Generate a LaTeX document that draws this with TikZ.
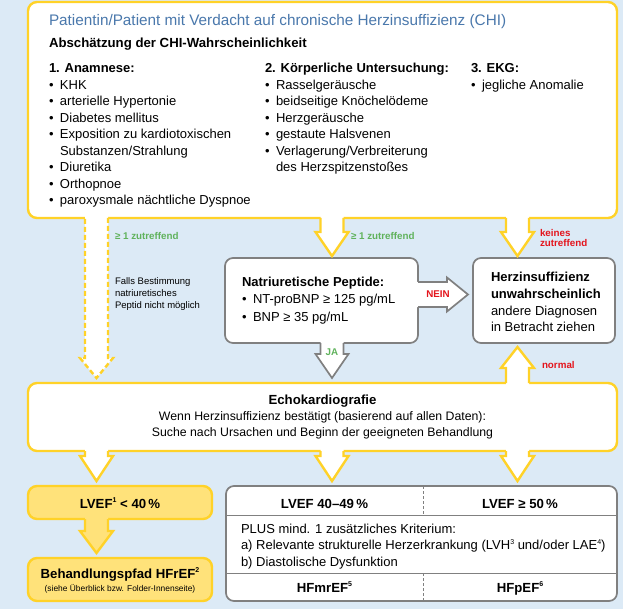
\documentclass[tikz,border=0pt]{standalone}
\usepackage{fontspec}
\setmainfont{Liberation Sans}
\usetikzlibrary{calc}

\definecolor{bgblue}{RGB}{220,234,246}
\definecolor{ylw}{RGB}{255,210,40}
\definecolor{paleylw}{RGB}{255,226,122}
\definecolor{frame}{RGB}{128,128,128}
\definecolor{titleblue}{RGB}{74,120,172}
\definecolor{okgreen}{RGB}{96,178,92}
\definecolor{alertred}{RGB}{228,20,28}

\newcommand\fs[2]{\fontsize{#1}{#2}\selectfont}
\newcommand\itm{\makebox[11pt][l]{\textbullet}}
\newcommand\fnmark[1]{\raisebox{0.42em}{\fontsize{7}{7}\selectfont #1}}
\newcommand\shafthw{11.5pt}
\newcommand\headhw{16.5pt}

% block arrow growing out of a box outline:
% #1 outline style, #2 fill colour, #3 root on the box edge, #4 tip, #5 head length
\newcommand\blockarrow[5]{%
  \coordinate (ba-r) at (#3);
  \coordinate (ba-t) at (#4);
  \coordinate (ba-b) at ($(ba-t)!#5!(ba-r)$);
  \coordinate (ba-c) at ($(ba-r)!-2.6pt!(ba-t)$);
  \fill[#2] ($(ba-c)!\shafthw!90:(ba-t)$) -- ($(ba-b)!\shafthw!90:(ba-t)$)
    -- ($(ba-b)!\headhw!90:(ba-t)$) -- (ba-t) -- ($(ba-b)!\headhw!-90:(ba-t)$)
    -- ($(ba-b)!\shafthw!-90:(ba-t)$) -- ($(ba-c)!\shafthw!-90:(ba-t)$) -- cycle;
  \draw[#1] ($(ba-r)!\shafthw!90:(ba-t)$) -- ($(ba-b)!\shafthw!90:(ba-t)$)
    -- ($(ba-b)!\headhw!90:(ba-t)$) -- (ba-t) -- ($(ba-b)!\headhw!-90:(ba-t)$)
    -- ($(ba-b)!\shafthw!-90:(ba-t)$) -- ($(ba-r)!\shafthw!-90:(ba-t)$);
}

\tikzset{
  ybox/.style={draw=ylw, line width=2.4pt, fill=white, rounded corners=9pt, inner sep=0pt, outer sep=0pt},
  gbox/.style={draw=frame, line width=1.7pt, fill=white, rounded corners=8pt, inner sep=0pt, outer sep=0pt},
  pbox/.style={ybox, fill=paleylw},
  yarrow/.style={draw=ylw, line width=2.4pt, line join=miter},
  garrow/.style={draw=frame, line width=1.7pt, line join=miter},
  txt/.style={inner sep=0pt, outer sep=0pt, anchor=base west},
  ctxt/.style={txt, anchor=base},
  lbl/.style={txt, font=\fs{9.8}{10}\bfseries},
}

\begin{document}
\begin{tikzpicture}[x=1pt, y=-1pt]
\fill[bgblue] (0,0) rectangle (623,609);
\useasboundingbox (0,0) rectangle (623,609);

% arrow axes
\coordinate (colA) at (96.5,0);
\coordinate (colB) at (332,0);
\coordinate (colC) at (517.5,0);
\coordinate (rowN) at (0,294.5);

% boxes
\node[ybox, minimum width=589pt, minimum height=216pt, anchor=north west] (top) at (28,2) {};
\node[gbox, minimum width=193pt, minimum height=85pt, anchor=north west] (natri) at (225,258) {};
\node[gbox, minimum width=142pt, minimum height=85pt, anchor=north west] (herz) at (473,258) {};
\node[ybox, minimum width=589pt, minimum height=68pt, anchor=north west] (echo) at (28,383) {};
\node[pbox, minimum width=184pt, minimum height=33pt, anchor=north west] (lvef) at (28,486) {};
\node[pbox, minimum width=184pt, minimum height=43pt, anchor=north west] (pfad) at (28,558) {};
\node[gbox, minimum width=391pt, minimum height=115pt, anchor=north west] (tab) at (226,486) {};

% table rules
\draw[frame, line width=1pt] ($(tab.north west)+(0,29)$) -- ($(tab.north east)+(0,29)$);
\draw[frame, line width=1pt] ($(tab.north west)+(0,87)$) -- ($(tab.north east)+(0,87)$);
\draw[frame, line width=0.8pt, dash pattern=on 3pt off 2pt] ($(tab.north west)+(197,0)$) -- ($(tab.north west)+(197,29)$);
\draw[frame, line width=0.8pt, dash pattern=on 3pt off 2pt] ($(tab.south west)+(197,0)$) -- ($(tab.south west)+(197,-28)$);

% arrows
\blockarrow{yarrow, dash pattern=on 5pt off 3pt}{white}{top.south -| colA}{$(echo.north -| colA)+(0,-5)$}{20pt}
\blockarrow{yarrow}{white}{top.south -| colB}{$(natri.north -| colB)+(0,-2)$}{24pt}
\blockarrow{yarrow}{white}{top.south -| colC}{$(herz.north -| colC)+(0,-2)$}{24pt}
{\renewcommand\shafthw{12.5pt}\renewcommand\headhw{17pt}%
 \blockarrow{garrow}{white}{natri.east |- rowN}{$(herz.west |- rowN)+(-5,0)$}{21pt}}
\blockarrow{garrow}{white}{natri.south -| colB}{$(echo.north -| colB)+(0,-5)$}{24pt}
\blockarrow{yarrow}{white}{echo.north -| colC}{$(herz.south -| colC)+(0,4)$}{21pt}
\blockarrow{yarrow}{white}{echo.south -| colA}{$(lvef.north -| colA)+(0,-5)$}{25pt}
\blockarrow{yarrow}{white}{echo.south -| colB}{$(tab.north -| colB)+(0,-5)$}{25pt}
\blockarrow{yarrow}{white}{echo.south -| colC}{$(tab.north -| colC)+(0,-5)$}{25pt}
\blockarrow{yarrow}{paleylw}{lvef.south -| colA}{$(pfad.north -| colA)+(0,-5)$}{22pt}

% top box text
\node[txt, text=titleblue, font=\fs{15.3}{18}] (title) at (49,26)
  {Patientin/Patient mit Verdacht auf chronische Herzinsuffizienz (CHI)};
\node[txt, font=\fs{13.2}{16}\bfseries] (abs) at (49,48) {Abschätzung der CHI-Wahrscheinlichkeit};
\node[txt, font=\fs{13}{16.5}] (anam) at (49,73) {\begin{tabular}[t]{@{}l@{}}
  \textbf{1. Anamnese:}\\
  \itm KHK\\
  \itm arterielle Hypertonie\\
  \itm Diabetes mellitus\\
  \itm Exposition zu kardiotoxischen\\
  \hspace*{11pt}Substanzen/Strahlung\\
  \itm Diuretika\\
  \itm Orthopnoe\\
  \itm paroxysmale nächtliche Dyspnoe
\end{tabular}};
\node[txt, font=\fs{13}{16.5}] (koerp) at (265,73) {\begin{tabular}[t]{@{}l@{}}
  \textbf{2. Körperliche Untersuchung:}\\
  \itm Rasselgeräusche\\
  \itm beidseitige Knöchelödeme\\
  \itm Herzgeräusche\\
  \itm gestaute Halsvenen\\
  \itm Verlagerung/Verbreiterung\\
  \hspace*{11pt}des Herzspitzenstoßes
\end{tabular}};
\node[txt, font=\fs{13}{16.5}] (ekg) at (471,73) {\begin{tabular}[t]{@{}l@{}}
  \textbf{3. EKG:}\\
  \itm jegliche Anomalie
\end{tabular}};

% arrow labels
\node[lbl, text=okgreen] (zA) at (115,239.5) {≥ 1 zutreffend};
\node[lbl, text=okgreen] (zB) at (351,239.5) {≥ 1 zutreffend};
\node[lbl, text=alertred] (zC) at (540,236.5) {\begin{tabular}[t]{@{}l@{}}keines\\zutreffend\end{tabular}};
\node[txt, font=\fs{9.5}{11.6}] (falls) at (115,285) {\begin{tabular}[t]{@{}l@{}}
  Falls Bestimmung\\natriuretisches\\Peptid nicht möglich\end{tabular}};
\node[lbl, text=alertred, anchor=center] (nein) at (438,294.5) {NEIN};
\node[lbl, text=okgreen, anchor=center] (ja) at (332,352) {JA};
\node[lbl, text=alertred] (norm) at (542,368.5) {normal};

% peptide and exclusion boxes
\node[txt, font=\fs{13}{17.5}] (natrit) at (242,286.5) {\begin{tabular}[t]{@{}l@{}}
  \textbf{Natriuretische Peptide:}\\
  \itm NT-proBNP ≥ 125 pg/mL\\
  \itm BNP ≥ 35 pg/mL
\end{tabular}};
\node[txt, font=\fs{13}{16.5}] (herzt) at (491,282) {\begin{tabular}[t]{@{}l@{}}
  \textbf{Herzinsuffizienz}\\
  \textbf{unwahrscheinlich}\\
  andere Diagnosen\\
  in Betracht ziehen
\end{tabular}};

% echocardiography
\node[ctxt, font=\fs{13.2}{16}\bfseries] (echoa) at (322.5,404) {Echokardiografie};
\node[ctxt, font=\fs{12.3}{16}] (echob) at (322.5,420) {Wenn Herzinsuffizienz bestätigt (basierend auf allen Daten):};
\node[ctxt, font=\fs{12.3}{16}] (echoc) at (322.5,436) {Suche nach Ursachen und Beginn der geeigneten Behandlung};

% ejection fraction classes
\node[ctxt, font=\fs{13.2}{16}\bfseries] (lveft) at (120,508) {LVEF\fnmark{1} < 40\,\%};
\node[ctxt, font=\fs{13.2}{16}\bfseries] (pfada) at (120,578) {Behandlungspfad HFrEF\fnmark{2}};
\node[ctxt, font=\fs{8.4}{10}] (pfadb) at (120,591) {(siehe Überblick bzw. Folder-Innenseite)};
\node[ctxt, font=\fs{13.2}{16}\bfseries] (mra) at (324.5,508) {LVEF 40–49\,\%};
\node[ctxt, font=\fs{13.2}{16}\bfseries] (pea) at (520,508) {LVEF ≥ 50\,\%};
\node[txt, font=\fs{13}{16.8}] (crit) at (241,533) {\begin{tabular}[t]{@{}l@{}}
  PLUS mind. 1 zusätzliches Kriterium:\\
  a) Relevante strukturelle Herzerkrankung (LVH\fnmark{3} und/oder LAE\fnmark{4})\\
  b) Diastolische Dysfunktion
\end{tabular}};
\node[ctxt, font=\fs{13.2}{16}\bfseries] (mrb) at (324.5,592) {HFmrEF\fnmark{5}};
\node[ctxt, font=\fs{13.2}{16}\bfseries] (peb) at (520,592) {HFpEF\fnmark{6}};
\end{tikzpicture}
\end{document}
